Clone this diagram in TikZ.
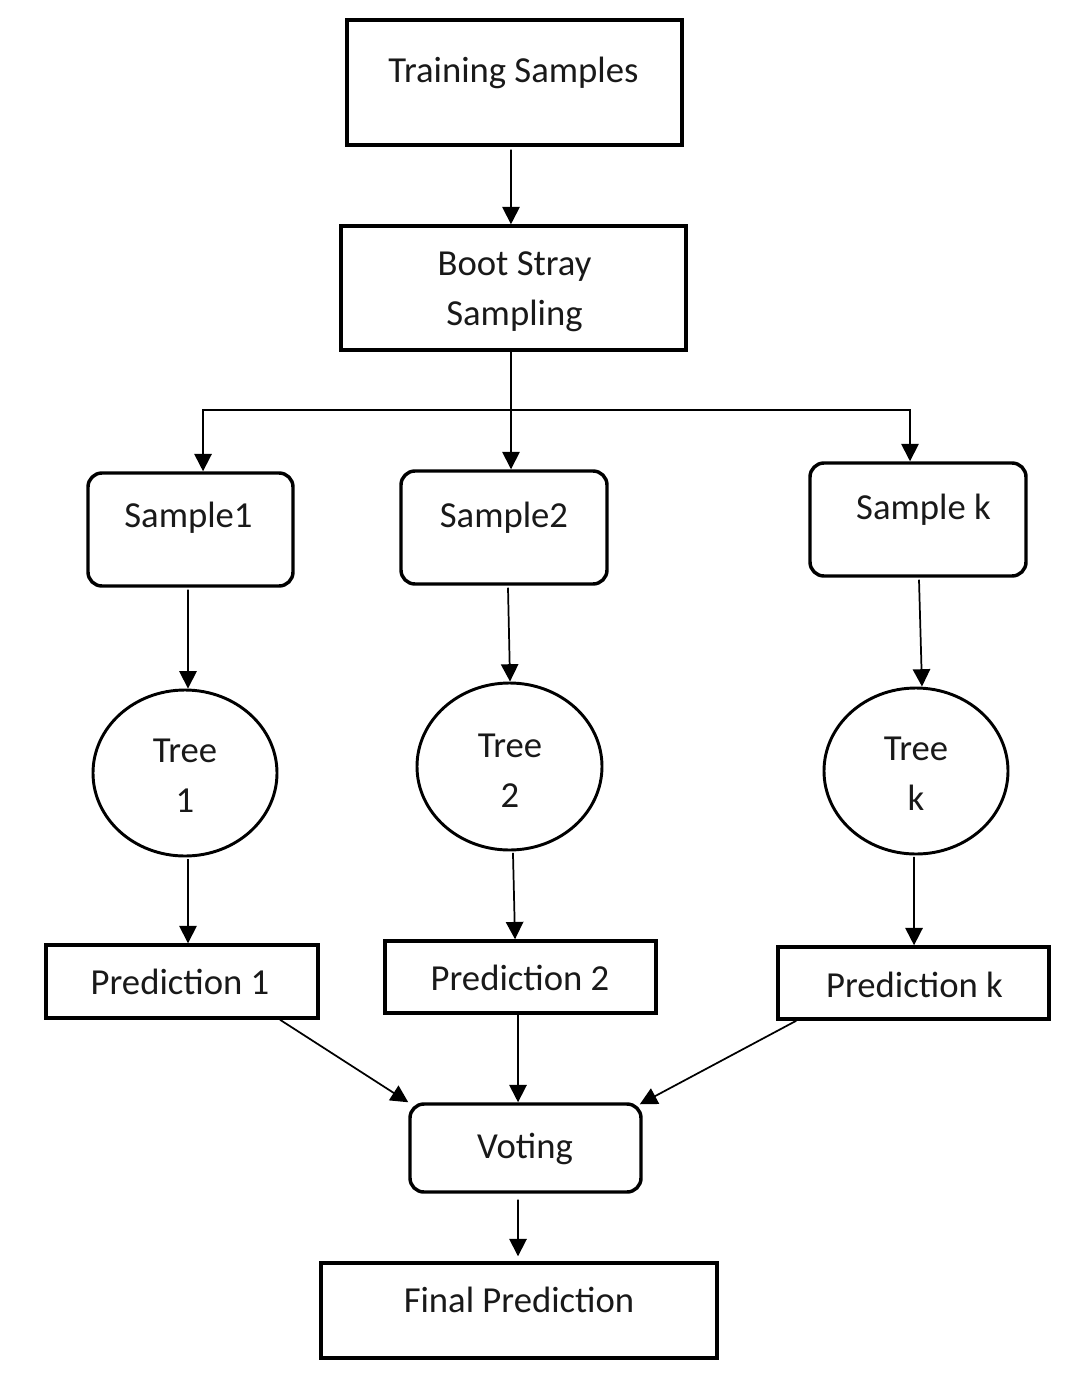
\documentclass[tikz,border=0pt]{standalone}
\usepackage{fontspec}
\setmainfont{Carlito}
\usetikzlibrary{arrows.meta,shapes.geometric}

\tikzset{
  box/.style={draw, line width=2.6pt, inner sep=0pt},
  rbox/.style={box, rounded corners=10.5pt},
  treenode/.style={draw, ellipse, line width=2.2pt, inner sep=0pt},
  txt/.style={inner sep=0pt, text=black!90, font=\fontsize{27.5}{37.5}\selectfont, align=center},
  arr/.style={line width=1.3pt, -{Triangle[length=13pt,width=13pt]}}
}

\begin{document}
\begin{tikzpicture}[x=0.75pt,y=0.75pt,yscale=-1]
\useasboundingbox (0,0) rectangle (1072,1388);

%Shapes: boxes
\node[box, minimum width=251.25pt, minimum height=93.75pt] (train) at (514.5,82.5) {};
\node[box, minimum width=258.75pt, minimum height=93pt] (boot) at (513.5,288) {};
%Shapes: samples
\node[rbox, minimum width=153.75pt, minimum height=84.75pt] (s1) at (190.5,529.5) {};
\node[rbox, minimum width=154.5pt, minimum height=84.75pt] (s2) at (504,527.5) {};
\node[rbox, minimum width=162pt, minimum height=84.75pt] (sk) at (918,519.5) {};
%Shapes: trees
\node[treenode, minimum width=138pt, minimum height=124.5pt] (t1) at (185,773) {};
\node[treenode, minimum width=138.75pt, minimum height=125.25pt] (t2) at (509.5,766.5) {};
\node[treenode, minimum width=138pt, minimum height=124.5pt] (tk) at (916,771) {};
%Shapes: predictions
\node[box, minimum width=204pt, minimum height=54.75pt] (p1) at (182,981.5) {};
\node[box, minimum width=203.25pt, minimum height=54pt] (p2) at (520.5,977) {};
\node[box, minimum width=203.25pt, minimum height=54pt] (pk) at (913.5,983) {};
%Shapes: voting and result
\node[rbox, minimum width=173.25pt, minimum height=66pt] (vote) at (525.5,1148) {};
\node[box, minimum width=297pt, minimum height=71.25pt] (final) at (519,1310.5) {};

% Text Nodes
\node[txt, anchor=base] (train-l) at (513.5,83) {Training Samples};
\node[txt] (boot-l) at (514.5,292) {Boot Stray\\Sampling};
\node[txt, anchor=base] (s1-l) at (188.5,527) {Sample1};
\node[txt, anchor=base] (s2-l) at (504,527) {Sample2};
\node[txt, anchor=base] (sk-l) at (923.5,519) {Sample k};
\node[txt] (t1-l) at (185,776) {Tree\\1};
\node[txt] (t2-l) at (510,771) {Tree\\2};
\node[txt] (tk-l) at (916,774) {Tree\\k};
\node[txt, anchor=base] (p1-l) at (180,994) {Prediction 1};
\node[txt, anchor=base] (p2-l) at (520,990) {Prediction 2};
\node[txt, anchor=base] (pk-l) at (914.5,997) {Prediction k};
\node[txt, anchor=base] (vote-l) at (525,1158) {Voting};
\node[txt, anchor=base] (final-l) at (519,1312) {Final Prediction};

%Straight Lines
\coordinate (split) at (511,410);
\draw[arr] ([xshift=-2.6pt,yshift=2.2pt]train.south) -- ([xshift=-1.9pt]boot.north);
\draw[line width=1.3pt] ([xshift=-1.9pt]boot.south) -- (split);
\draw[arr] (split) -| ([xshift=9.4pt]s1.north);
\draw[arr] (split) -- ([xshift=5.25pt]s2.north);
\draw[arr] (split) -| ([xshift=-6pt]sk.north);
%Straight Lines: samples to trees
\draw[arr] ([xshift=-1.9pt,yshift=1.5pt]s1.south) -- ([xshift=2.25pt]t1.north);
\draw[arr] ([xshift=3pt,yshift=1.5pt]s2.south) -- ([xshift=0.4pt]t2.north);
\draw[arr] ([xshift=0.75pt,yshift=1.5pt]sk.south) -- ([xshift=4.5pt]tk.north);
%Straight Lines: trees to predictions
\draw[arr] ([xshift=2.25pt,yshift=1.5pt]t1.south) -- ([xshift=4.5pt]p1.north);
\draw[arr] ([xshift=2.6pt,yshift=1pt]t2.south) -- ([xshift=-4.1pt]p2.north);
\draw[arr] ([xshift=-1.5pt,yshift=1pt]tk.south) -- ([xshift=0.4pt]pk.north);
%Straight Lines: predictions to voting
\draw[arr] ([xshift=73.5pt]p1.south) -- (vote.north west);
\draw[arr] ([xshift=-1.9pt]p2.south) -- ([xshift=-5.6pt]vote.north);
\draw[arr] ([xshift=15pt]pk.south west) -- ([xshift=-2.2pt,yshift=1.5pt]vote.north east);
\draw[arr] ([xshift=-5.6pt,yshift=4.5pt]vote.south) -- ([xshift=-0.75pt,yshift=-3.75pt]final.north);

\end{tikzpicture}
\end{document}
